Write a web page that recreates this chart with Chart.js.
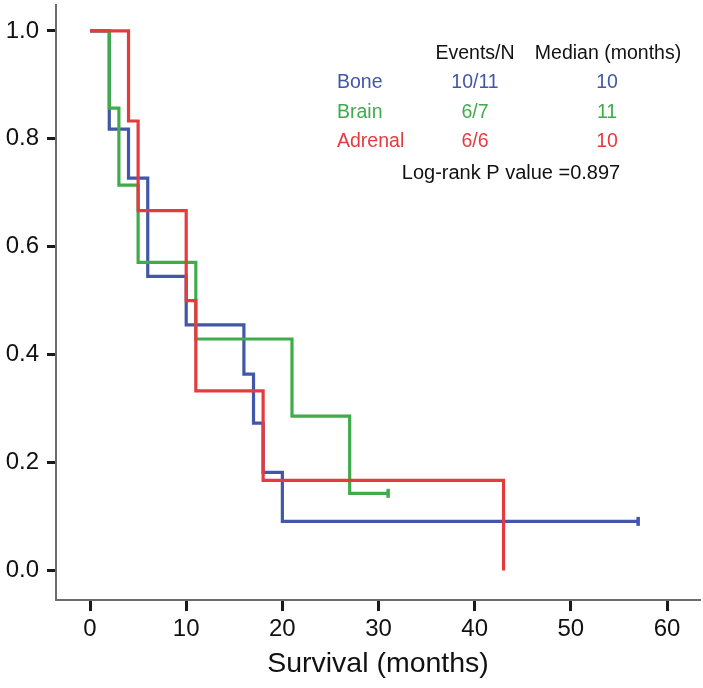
<!DOCTYPE html>
<html>
<head>
<meta charset="utf-8">
<script src="https://cdn.jsdelivr.net/npm/chart.js@4/dist/chart.umd.min.js"></script>
<style>
  html, body { margin: 0; padding: 0; background: #fff; }
  #wrap { position: relative; width: 703px; height: 688px; }
</style>
</head>
<body>
<div id="wrap"><canvas id="c" width="703" height="688"></canvas></div>
<script>
// Kaplan-Meier step data (time in months, survival proportion)
const boneTimes    = [0, 2, 4, 6, 10, 16, 17, 18, 20, 57];
const boneSurv     = [1.0, 0.818, 0.727, 0.545, 0.455, 0.364, 0.273, 0.182, 0.091, 0.091];
const brainTimes   = [0, 2, 3, 5, 11, 21, 27, 31];
const brainSurv    = [1.0, 0.857, 0.714, 0.571, 0.429, 0.286, 0.143, 0.143];
const adrenalTimes = [0, 4, 5, 10, 11, 18, 43];
const adrenalSurv  = [1.0, 0.833, 0.667, 0.5, 0.333, 0.167, 0.0];

const groupNames   = ['Bone', 'Brain', 'Adrenal'];
const eventsN      = ['10/11', '6/7', '6/6'];
const medians      = ['10', '11', '10'];
const censored     = [true, true, false];
const xTicks       = [0, 10, 20, 30, 40, 50, 60];
const yTicks       = [0.0, 0.2, 0.4, 0.6, 0.8, 1.0];
const pText        = 'Log-rank P value =0.897';

const colors = ['#4157a8', '#3fab4b', '#e53b3f'];

function pts(t, s) { return t.map((v, i) => ({ x: v, y: s[i] })); }
function mkDs(i, t, s) {
  const n = t.length;
  const radii = t.map((_, k) => (censored[i] && k === n - 1) ? 4.5 : 0);
  return {
    label: groupNames[i],
    data: pts(t, s),
    showLine: true,
    stepped: true,
    borderColor: colors[i],
    backgroundColor: colors[i],
    borderWidth: 3.2,
    pointRadius: radii,
    pointHoverRadius: radii,
    pointStyle: 'line',
    pointRotation: 90,
    pointBorderWidth: 3.5,
    pointBorderColor: colors[i],
    fill: false
  };
}

const FONT = '"Liberation Sans", Arial, Helvetica, sans-serif';

function zeroPad(scale) {
  scale.paddingTop = 0; scale.paddingBottom = 0;
  scale.paddingLeft = 0; scale.paddingRight = 0;
}

const annot = {
  id: 'annot',
  afterDraw(chart) {
    const ctx = chart.ctx;
    ctx.save();
    ctx.textBaseline = 'middle';
    ctx.font = '19.5px ' + FONT;
    ctx.fillStyle = '#111';
    ctx.textAlign = 'center';
    ctx.fillText('Events/N', 475, 54);
    ctx.fillText('Median (months)', 608, 54);
    const rowsY = [83, 113, 142];
    for (let i = 0; i < 3; i++) {
      ctx.fillStyle = colors[i];
      ctx.textAlign = 'left';
      ctx.fillText(groupNames[i], 337, rowsY[i]);
      ctx.textAlign = 'center';
      ctx.fillText(eventsN[i], 475, rowsY[i]);
      ctx.fillText(medians[i], 607, rowsY[i]);
    }
    ctx.fillStyle = '#111';
    ctx.font = '20px ' + FONT;
    ctx.textAlign = 'center';
    ctx.fillText(pText, 511, 173);
    ctx.restore();
  }
};

new Chart(document.getElementById('c'), {
  type: 'scatter',
  data: {
    datasets: [
      mkDs(2, adrenalTimes, adrenalSurv),
      mkDs(1, brainTimes, brainSurv),
      mkDs(0, boneTimes, boneSurv)
    ]
  },
  options: {
    responsive: false,
    animation: false,
    devicePixelRatio: 1,
    layout: { autoPadding: false, padding: { top: 5, right: 3, left: 0, bottom: 0 } },
    plugins: { legend: { display: false }, tooltip: { enabled: false } },
    scales: {
      x: {
        type: 'linear',
        min: -3.54,
        max: 63.43,
        afterBuildTicks(scale) { scale.ticks = xTicks.map(v => ({ value: v })); },
        afterFit(scale) { scale.height = 88; zeroPad(scale); },
        ticks: {
          color: '#111',
          font: { size: 24, family: FONT },
          padding: 4,
          callback: v => String(v)
        },
        grid: { drawOnChartArea: false, drawTicks: true, tickLength: 11, tickWidth: 3, tickColor: '#1a1a1a' },
        border: { display: true, color: '#6b6b6b', width: 2 },
        title: {
          display: true,
          text: 'Survival (months)',
          color: '#111',
          font: { size: 28.5, family: FONT },
          padding: { top: 0, bottom: 7 }
        }
      },
      y: {
        type: 'linear',
        min: -0.0547,
        max: 1.048,
        afterBuildTicks(scale) { scale.ticks = yTicks.map(v => ({ value: v })); },
        afterFit(scale) { scale.width = 56; zeroPad(scale); },
        ticks: {
          color: '#111',
          font: { size: 24, family: FONT },
          padding: 8,
          callback: v => Number(v).toFixed(1)
        },
        grid: { drawOnChartArea: false, drawTicks: true, tickLength: 9, tickWidth: 3, tickColor: '#1a1a1a' },
        border: { display: true, color: '#6b6b6b', width: 2 }
      }
    }
  },
  plugins: [annot]
});
</script>
</body>
</html>
